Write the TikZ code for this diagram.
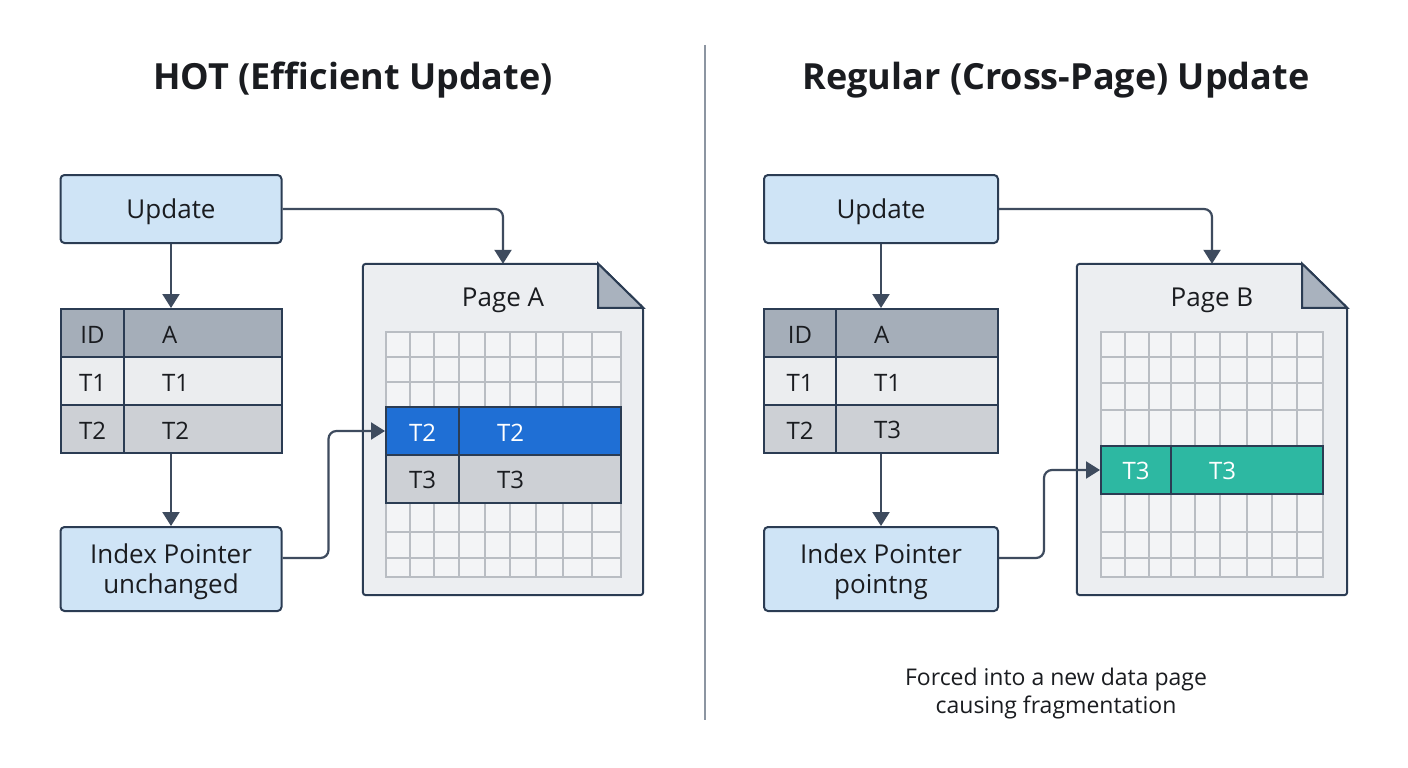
\documentclass[tikz,border=0pt]{standalone}
\usepackage{fontspec}
\setmainfont{Open Sans}
\usetikzlibrary{arrows.meta}

\definecolor{box-fill}{HTML}{CFE4F6}
\definecolor{ink}{HTML}{2B3C53}
\definecolor{arrow-ink}{HTML}{3E4B5E}
\definecolor{head-fill}{HTML}{A5AEB9}
\definecolor{row-light}{HTML}{EBEDEF}
\definecolor{row-dark}{HTML}{CDD0D5}
\definecolor{page-fill}{HTML}{ECEEF1}
\definecolor{page-grid}{HTML}{F3F4F6}
\definecolor{fold-fill}{HTML}{A9B2BE}
\definecolor{grid-ink}{HTML}{B9BDC3}
\definecolor{hot-row}{HTML}{1F6FD5}
\definecolor{new-row}{HTML}{2DB8A2}
\definecolor{divider-ink}{HTML}{8C95A1}
\definecolor{text-ink}{HTML}{1A1C20}

\tikzstyle{action-box}=[draw=ink, line width=2pt, fill=box-fill, rounded corners=4pt,
      minimum width=221pt, align=center, text=text-ink, text height=25pt,
      font=\fontsize{26}{30}\selectfont]
\tikzstyle{pointer-box}=[action-box, text height=55pt]
\tikzstyle{cell}=[draw=ink, line width=2pt, minimum height=48pt, inner sep=0pt,
      text=text-ink, text height=20pt, font=\fontsize{24}{28}\selectfont]
\tikzstyle{val-cell}=[cell, inner xsep=38pt, align=left]
\tikzstyle{page-frame}=[inner sep=0pt, minimum width=280pt, minimum height=331pt]
\tikzstyle{page-outline}=[draw=ink, line width=2pt, fill=page-fill, rounded corners=3pt]
\tikzstyle{fold}=[draw=ink, line width=2pt, fill=fold-fill]
\tikzstyle{grid-rule}=[draw=grid-ink, line width=1.2pt]
\tikzstyle{flow}=[draw=arrow-ink, line width=2.2pt, rounded corners=8pt,
      -{Triangle[width=17pt,length=14pt]}]
\tikzstyle{panel-title}=[font=\bfseries\fontsize{36}{40}\selectfont, text=text-ink]

\begin{document}
\begin{tikzpicture}[x=1pt, y=-1pt]
      \useasboundingbox[fill=white] (0, 0) rectangle (1408, 768);

      \node (title-hot) at (353, 80) [panel-title] {HOT (Efficient Update)};
      \node (title-regular) at (1056, 80) [panel-title] {Regular (Cross-Page) Update};
      \draw[draw=divider-ink, line width=1.5pt] (705, 45) -- (705, 720);

      \node (update-hot) at (171, 209) [action-box, minimum height=68pt] {Update};
      \node (head-hot-id) at (92.5, 333) [cell, fill=head-fill, minimum width=63pt] {ID};
      \node (head-hot-a) at (203, 333) [val-cell, fill=head-fill, text width=82pt] {A};
      \node (row1-hot-id) at (92.5, 381) [cell, fill=row-light, minimum width=63pt] {T1};
      \node (row1-hot-a) at (203, 381) [val-cell, fill=row-light, text width=82pt] {T1};
      \node (row2-hot-id) at (92.5, 429) [cell, fill=row-dark, minimum width=63pt] {T2};
      \node (row2-hot-a) at (203, 429) [val-cell, fill=row-dark, text width=82pt] {T2};
      \node (index-hot) at (171, 569) [pointer-box, minimum height=84pt] {Index Pointer\\unchanged};

      \node (page-a) at (503, 429.5) [page-frame] {};
      \draw[page-outline] (page-a.north west) -- ([xshift=-45pt]page-a.north east)
            -- ([yshift=-44pt]page-a.north east) -- (page-a.south east)
            -- (page-a.south west) -- cycle;
      \draw[fold] ([xshift=-45pt]page-a.north east) -- ([xshift=-45pt, yshift=-44pt]page-a.north east)
            -- ([yshift=-44pt]page-a.north east) -- cycle;
      \node (page-a-label) at (503, 300) [text=text-ink, font=\fontsize{26}{30}\selectfont] {Page A};
      \draw[grid-rule, fill=page-grid] (386, 332) rectangle (621, 577);
      \foreach \x in {410, 434, 459, 485, 510, 536, 563, 592}
            \draw[grid-rule] (\x, 332) -- (\x, 577);
      \foreach \y in {357, 382, 532, 558}
            \draw[grid-rule] (386, \y) -- (621, \y);
      \node (page-a-t2-id) at (422.5, 431) [cell, fill=hot-row, text=white, minimum width=73pt] {T2};
      \node (page-a-t2-a) at (540, 431) [val-cell, fill=hot-row, text=white, text width=86pt] {T2};
      \node (page-a-t3-id) at (422.5, 479) [cell, fill=row-dark, minimum width=73pt] {T3};
      \node (page-a-t3-a) at (540, 479) [val-cell, fill=row-dark, text width=86pt] {T3};

      \draw[flow] (update-hot.south) -- (update-hot.south |- head-hot-a.north);
      \draw[flow] (update-hot.south |- row2-hot-a.south) -- (index-hot.north);
      \draw[flow] (update-hot.east) -| (page-a.north);
      \draw[flow] ([yshift=11pt]index-hot.east) -- ++(46, 0) |- (page-a-t2-id.west);

      \node (update-regular) at (881, 209) [action-box, minimum width=234pt, minimum height=68pt] {Update};
      \node (head-regular-id) at (800, 333) [cell, fill=head-fill, minimum width=72pt] {ID};
      \node (head-regular-a) at (917, 333) [val-cell, fill=head-fill, text width=86pt] {A};
      \node (row1-regular-id) at (800, 381) [cell, fill=row-light, minimum width=72pt] {T1};
      \node (row1-regular-a) at (917, 381) [val-cell, fill=row-light, text width=86pt] {T1};
      \node (row2-regular-id) at (800, 429) [cell, fill=row-dark, minimum width=72pt] {T2};
      \node (row2-regular-a) at (917, 429) [val-cell, fill=row-dark, text width=86pt] {T3};
      \node (index-regular) at (881, 569) [pointer-box, minimum width=234pt, minimum height=84pt] {Index Pointer\\pointng};

      \node (page-b) at (1212, 429.5) [page-frame, minimum width=270pt] {};
      \draw[page-outline] (page-b.north west) -- ([xshift=-45pt]page-b.north east)
            -- ([yshift=-44pt]page-b.north east) -- (page-b.south east)
            -- (page-b.south west) -- cycle;
      \draw[fold] ([xshift=-45pt]page-b.north east) -- ([xshift=-45pt, yshift=-44pt]page-b.north east)
            -- ([yshift=-44pt]page-b.north east) -- cycle;
      \node (page-b-label) at (1212, 300) [text=text-ink, font=\fontsize{26}{30}\selectfont] {Page B};
      \draw[grid-rule, fill=page-grid] (1101, 332) rectangle (1323, 577);
      \foreach \x in {1125, 1149, 1171, 1195, 1220, 1247, 1272, 1297}
            \draw[grid-rule] (\x, 332) -- (\x, 577);
      \foreach \y in {357, 383, 410, 532, 558}
            \draw[grid-rule] (1101, \y) -- (1323, \y);
      \node (page-b-t3-id) at (1136, 470) [cell, fill=new-row, text=white, minimum width=70pt] {T3};
      \node (page-b-t3-a) at (1247, 470) [val-cell, fill=new-row, text=white, text width=76pt] {T3};

      \draw[flow] (update-regular.south) -- (update-regular.south |- head-regular-a.north);
      \draw[flow] (update-regular.south |- row2-regular-a.south) -- (index-regular.north);
      \draw[flow] (update-regular.east) -| (page-b.north);
      \draw[flow] ([yshift=11pt]index-regular.east) -- ++(45, 0) |- (page-b-t3-id.west);

      \node (note-regular) at (1056, 694) [align=center, text=text-ink,
            font=\fontsize{23}{28}\selectfont] {Forced into a new data page\\causing fragmentation};
    \end{tikzpicture}
\end{document}
